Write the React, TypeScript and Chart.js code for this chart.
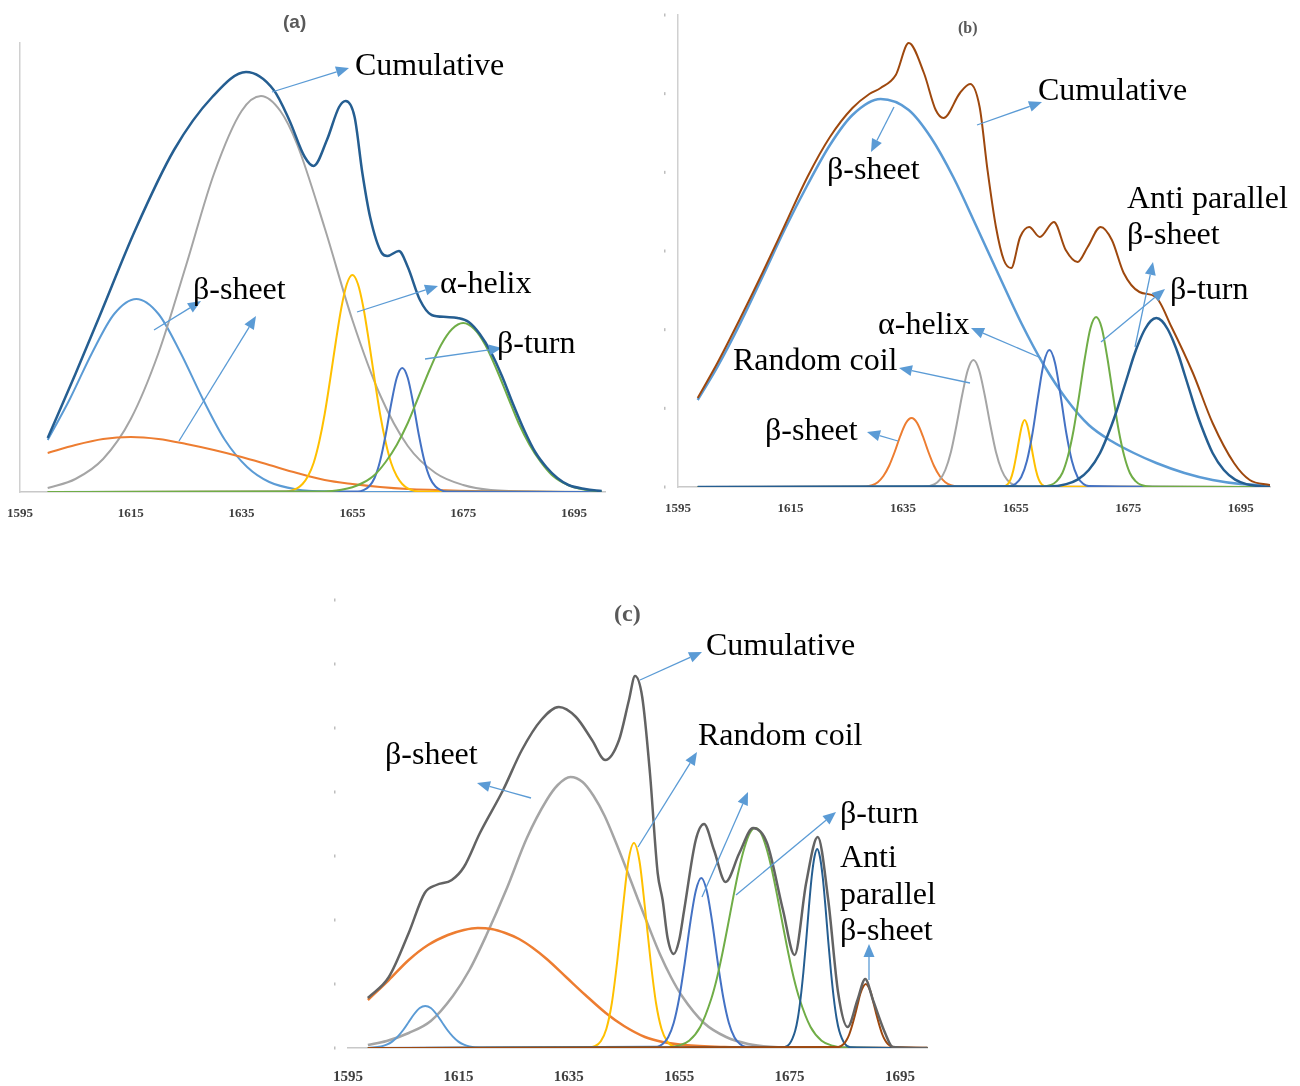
import React, { useEffect, useRef } from "react";
import { Chart, registerables } from "chart.js";

Chart.register(...registerables);

// ---------- shared ----------
const TICK_VALUES = [1595, 1615, 1635, 1655, 1675, 1695];

// ---------- panel (a) ----------
const A_CUM_X = [1600, 1605, 1609.3, 1615.8, 1622.8, 1629.7, 1635.8, 1640.8, 1643.6, 1646.4, 1648, 1650.4, 1652.6, 1653.8, 1655.4, 1656.8, 1658.2, 1660.3, 1661.3, 1663.4, 1665, 1667.2, 1669.3, 1672, 1674, 1676, 1678, 1680, 1682, 1684, 1686, 1688, 1690, 1692, 1694, 1697, 1700];
const A_CUM_Y = [54, 118, 175, 262, 342, 395, 420, 402, 372, 335, 326, 352, 385, 391, 375, 319, 275, 239, 236, 241, 225, 192, 177, 175, 174, 170, 158, 140, 116, 88, 62, 40, 25, 14, 7, 3, 1];
const A_GRAY_X = [1600, 1605, 1610, 1615, 1620, 1625, 1630, 1635, 1638.5, 1642, 1645, 1650, 1655, 1660, 1665, 1670, 1675, 1680, 1690, 1700];
const A_GRAY_Y = [4, 13, 33, 73, 139, 227, 318, 381, 396, 381, 348, 264, 172, 97, 46, 19, 7, 2, 0.3, 0];
const A_LBLUE_X = [1600, 1604, 1608, 1612, 1616, 1620, 1624, 1628, 1632, 1636, 1640, 1645, 1650, 1660, 1700];
const A_LBLUE_Y = [52, 93, 139, 178, 193, 178, 139, 93, 52, 25, 10, 2.6, 0.5, 0, 0];
const A_ORANGE_X = [1600, 1605, 1610, 1615, 1620, 1625, 1630, 1635, 1640, 1645, 1650, 1655, 1660, 1665, 1670, 1680, 1700];
const A_ORANGE_Y = [39, 47, 53, 55, 53, 48, 42, 35, 27, 19, 12, 8, 5, 3, 2, 0.5, 0];
const A_YELLOW_X = [1600, 1643, 1645, 1646, 1647, 1648, 1649, 1650, 1651, 1652, 1653, 1654, 1655, 1656, 1657, 1658, 1659, 1660, 1661, 1662, 1663, 1664, 1665, 1667, 1700];
const A_YELLOW_Y = [0, 0.6, 3.7, 8, 16, 29, 50, 78, 113, 150, 184, 208, 217, 208, 184, 150, 113, 78, 50, 29, 16, 8, 3.7, 0.6, 0];
const A_BLUE_X = [1600, 1656, 1657, 1658, 1659, 1660, 1661, 1662, 1663, 1664, 1665, 1666, 1667, 1668, 1669, 1670, 1671, 1672, 1700];
const A_BLUE_Y = [0, 0.4, 1.8, 5.5, 14, 31, 57, 88, 114, 124, 114, 88, 57, 31, 14, 5.5, 1.8, 0.4, 0];
const A_GREEN_X = [1600, 1650, 1653, 1655, 1657, 1659, 1661, 1663, 1665, 1667, 1669, 1671, 1673, 1675, 1677, 1679, 1681, 1683, 1685, 1687, 1689, 1691, 1693, 1695, 1697, 1700];
const A_GREEN_Y = [0, 0.6, 2.3, 4.8, 9.5, 17, 30, 47, 69, 96, 123, 147, 163, 169, 163, 147, 123, 96, 69, 47, 30, 17, 9.5, 4.8, 2.3, 0.6];

// ---------- panel (b) ----------
const B_CUM_X = [1598.5, 1602, 1606, 1610, 1614, 1618, 1622, 1626, 1629, 1631, 1633.7, 1636, 1638.7, 1640.8, 1642.2, 1645.1, 1646.9, 1648.6, 1650, 1651.5, 1652.9, 1654.2, 1655.8, 1657.4, 1659.3, 1661.8, 1663.9, 1666, 1667.8, 1670.1, 1672.1, 1674.2, 1677, 1679.9, 1682.7, 1686.5, 1690, 1693.8, 1696.6, 1700.2];
const B_CUM_Y = [89, 124, 168, 214, 262, 310, 350, 379, 393, 399, 412, 444, 414, 377, 369, 394, 403, 380, 317, 260, 227, 219, 250, 260, 250, 265, 237, 225, 240, 260, 247, 214, 195, 190, 160, 114, 64, 24, 7, 2];
const B_LBLUE_X = [1598.5, 1602, 1606, 1610, 1614, 1618, 1622, 1626, 1631, 1636, 1640, 1644, 1648, 1652, 1656, 1660, 1664, 1668, 1672, 1676, 1680, 1685, 1690, 1695, 1700.2];
const B_LBLUE_Y = [87, 120, 163, 210, 258, 302, 342, 372, 388, 377, 349, 309, 261, 212, 164, 122, 88, 62, 46, 34, 24, 14, 7, 3, 1.5];
const B_ORANGE_X = [1598.5, 1627.5, 1629.5, 1630.5, 1631.5, 1632.5, 1633.5, 1634.5, 1635.5, 1636.5, 1637.5, 1638.5, 1639.5, 1640.5, 1641.5, 1642.5, 1643.5, 1645.5, 1700.2];
const B_ORANGE_Y = [0, 0.2, 1.9, 4.8, 11, 21, 35, 51, 64, 69, 64, 51, 35, 21, 11, 4.8, 1.9, 0.2, 0];
const B_GRAY_X = [1598.5, 1638.5, 1640.5, 1641.5, 1642.5, 1643.5, 1644.5, 1645.5, 1646.5, 1647.5, 1648.5, 1649.5, 1650.5, 1651.5, 1652.5, 1653.5, 1654.5, 1656.5, 1700.2];
const B_GRAY_Y = [0, 0.2, 2.5, 7.1, 17, 35, 62, 92, 117, 127, 117, 92, 62, 35, 17, 7.1, 2.5, 0.2, 0];
const B_YELLOW_X = [1598.5, 1652.6, 1653.6, 1654.1, 1654.6, 1655.1, 1655.6, 1656.1, 1656.6, 1657.1, 1657.6, 1658.1, 1658.6, 1659.1, 1659.6, 1660.6, 1700.2];
const B_YELLOW_Y = [0, 0.3, 2.9, 7.6, 17, 31, 47, 61, 67, 61, 47, 31, 17, 7.6, 2.9, 0.3, 0];
const B_BLUE_X = [1598.5, 1654, 1655, 1656, 1657, 1658, 1659, 1660, 1661, 1662, 1663, 1664, 1665, 1666, 1667, 1668, 1700.2];
const B_BLUE_Y = [0, 0.9, 3.3, 10, 26, 54, 91, 124, 137, 124, 91, 54, 26, 10, 3.3, 0.9, 0];
const B_GREEN_X = [1598.5, 1659.3, 1661.3, 1662.3, 1663.3, 1664.3, 1665.3, 1666.3, 1667.3, 1668.3, 1669.3, 1670.3, 1671.3, 1672.3, 1673.3, 1674.3, 1675.3, 1676.3, 1677.3, 1679.3, 1700.2];
const B_GREEN_Y = [0, 0.2, 2.1, 5.9, 14, 31, 57, 92, 129, 159, 170, 159, 129, 92, 57, 31, 14, 5.9, 2.1, 0.2, 0];
const B_DBLUE_X = [1598.5, 1661, 1664, 1666, 1668, 1670, 1672, 1673, 1674, 1675, 1676, 1677, 1678, 1679, 1680, 1681, 1682, 1683, 1684, 1685, 1686, 1687, 1688, 1690, 1692, 1694, 1696, 1699, 1700.2];
const B_DBLUE_Y = [0, 0.5, 2.9, 7.4, 17, 34, 61, 77, 95, 113, 131, 146, 158, 166, 169, 166, 158, 146, 131, 113, 95, 77, 61, 34, 17, 7.4, 2.9, 0.5, 0];

// ---------- panel (c) ----------
const C_CUM_X = [1598.6, 1602.4, 1606, 1608.9, 1611, 1613.8, 1616, 1618.9, 1623.1, 1626.5, 1630, 1633.2, 1636.3, 1639.2, 1641.6, 1644.1, 1645.9, 1647, 1648.3, 1649.7, 1651.1, 1652, 1652.9, 1654, 1655, 1655.9, 1658, 1659.5, 1661.3, 1663.4, 1665.9, 1668.4, 1670.9, 1673.8, 1675.9, 1678, 1680.1, 1682, 1683.8, 1685.5, 1687.3, 1688.7, 1690.1, 1692.3, 1693.7, 1700];
const C_CUM_Y = [50, 71, 115, 155, 163, 168, 181, 215, 258, 298, 328, 341, 331, 308, 288, 308, 348, 372, 351, 275, 175, 148, 110, 94, 108, 138, 208, 224, 198, 166, 195, 220, 205, 138, 93, 165, 211, 148, 55, 21, 48, 69, 48, 15, 1, 0];
const C_LGRAY_X = [1598.6, 1602, 1606, 1610, 1614, 1617, 1620, 1623.8, 1627.4, 1631, 1633, 1635.3, 1637.5, 1639.5, 1641.5, 1643.5, 1645.5, 1647.5, 1649.5, 1651.5, 1653.5, 1655.5, 1659.5, 1663.5, 1667.5, 1671.5, 1680, 1700];
const C_LGRAY_Y = [3, 7, 15, 27, 52, 78, 112, 160, 210, 248, 263, 271, 266, 252, 232, 206, 178, 149, 121, 94, 71, 52, 25, 11, 4, 1.3, 0.2, 0];
const C_LBLUE_X = [1598.6, 1601, 1602, 1603, 1604, 1605, 1606, 1607, 1608, 1609, 1610, 1611, 1612, 1613, 1614, 1615, 1616, 1617, 1619, 1700];
const C_LBLUE_Y = [0.1, 1.5, 3.3, 6.4, 11.4, 18, 26, 34, 40, 42, 40, 34, 26, 18, 11.4, 6.4, 3.3, 1.5, 0.2, 0];
const C_ORANGE_X = [1598.6, 1602.4, 1606, 1609.5, 1613.1, 1616, 1618.5, 1621, 1623.5, 1626, 1628.5, 1631, 1634.5, 1638, 1641.7, 1645, 1648.8, 1652, 1655.9, 1663.2, 1672, 1685, 1700];
const C_ORANGE_Y = [48, 68, 88, 103, 113, 118, 120, 119, 115, 109, 100, 89, 71, 53, 35, 22, 11, 6, 3, 1, 0.4, 0.1, 0];
const C_YELLOW_X = [1598.6, 1637.8, 1639.8, 1640.8, 1641.8, 1642.8, 1643.8, 1644.8, 1645.8, 1646.8, 1647.8, 1648.8, 1649.8, 1650.8, 1651.8, 1652.8, 1653.8, 1655.8, 1700];
const C_YELLOW_Y = [0, 0.1, 2, 6.8, 19, 45, 88, 140, 187, 205, 187, 140, 88, 45, 19, 6.8, 2, 0.1, 0];
const C_BLUE_X = [1598.6, 1651, 1652, 1653, 1654, 1655, 1656, 1657, 1658, 1659, 1660, 1661, 1662, 1663, 1664, 1665, 1666, 1667, 1700];
const C_BLUE_Y = [0, 1.2, 3.9, 10.7, 25, 50, 85, 125, 157, 170, 157, 125, 85, 50, 25, 10.7, 3.9, 1.2, 0];
const C_GREEN_X = [1598.6, 1652.8, 1654.8, 1656.8, 1658.8, 1660.8, 1661.8, 1662.8, 1663.8, 1664.8, 1665.8, 1666.8, 1667.8, 1668.8, 1669.8, 1670.8, 1671.8, 1672.8, 1673.8, 1674.8, 1675.8, 1676.8, 1678.8, 1680.8, 1682.8, 1684.8, 1700];
const C_GREEN_Y = [0, 0.5, 2.2, 7.3, 21, 49, 69, 94, 122, 151, 178, 200, 215, 220, 215, 200, 178, 151, 122, 94, 69, 49, 21, 7.3, 2.2, 0.5, 0];
const C_DBLUE_X = [1598.6, 1674, 1675, 1676, 1676.5, 1677, 1677.5, 1678, 1678.5, 1679, 1679.5, 1680, 1680.5, 1681, 1681.5, 1682, 1682.5, 1683, 1683.5, 1684, 1685, 1686, 1700];
const C_DBLUE_Y = [0, 0.8, 4.2, 17, 30, 50, 76, 107, 141, 171, 191, 199, 191, 171, 141, 107, 76, 50, 30, 17, 4.2, 0.8, 0];
const C_BROWN_X = [1598.6, 1683.8, 1684.8, 1685.3, 1685.8, 1686.3, 1686.8, 1687.3, 1687.8, 1688.3, 1688.8, 1689.3, 1689.8, 1690.3, 1690.8, 1691.3, 1691.8, 1692.3, 1692.8, 1693.8, 1700];
const C_BROWN_Y = [0, 0.9, 4, 7.7, 13.5, 22, 32, 43, 54, 61, 64, 61, 54, 43, 32, 22, 13.5, 7.7, 4, 0.9, 0];

// ---------- colours ----------
const COL = {
  darkBlue: "#255E91",
  gray: "#A5A5A5",
  lightBlue: "#5B9BD5",
  orange: "#ED7D31",
  yellow: "#FFC000",
  blue: "#4472C4",
  green: "#70AD47",
  brown: "#9E480E",
  darkGray: "#636363",
};

type Series = { label: string; xs: number[]; ys: number[]; color: string; width: number };

type PanelCfg = {
  left: number;
  top: number;
  width: number;
  height: number;
  pad: { left: number; top: number; right: number; bottom: number };
  xMax: number;
  yMax: number;
  axisH: number;
  tickSize: number;
  tickPad: number;
  yLine: boolean;
  dots?: { step: number; offset: number };
  series: Series[];
};

// index 0 is drawn on top
const PANEL_A: PanelCfg = {
  left: -15, top: 20, width: 655, height: 520,
  pad: { left: 35, top: 23, right: 35, bottom: 8 },
  xMax: 1700.6, yMax: 449, axisH: 40, tickSize: 13, tickPad: 14, yLine: true,
  series: [
    { label: "Cumulative", xs: A_CUM_X, ys: A_CUM_Y, color: COL.darkBlue, width: 2.5 },
    { label: "β-turn", xs: A_GREEN_X, ys: A_GREEN_Y, color: COL.green, width: 2 },
    { label: "Blue", xs: A_BLUE_X, ys: A_BLUE_Y, color: COL.blue, width: 2 },
    { label: "α-helix", xs: A_YELLOW_X, ys: A_YELLOW_Y, color: COL.yellow, width: 2 },
    { label: "β-sheet (orange)", xs: A_ORANGE_X, ys: A_ORANGE_Y, color: COL.orange, width: 2 },
    { label: "Gray", xs: A_GRAY_X, ys: A_GRAY_Y, color: COL.gray, width: 2 },
    { label: "β-sheet", xs: A_LBLUE_X, ys: A_LBLUE_Y, color: COL.lightBlue, width: 2 },
  ],
};

const PANEL_B: PanelCfg = {
  left: 640, top: 0, width: 660, height: 540,
  pad: { left: 38, top: 15, right: 30, bottom: 13 },
  xMax: 1700.2, yMax: 472, axisH: 40, tickSize: 13, tickPad: 14, yLine: true,
  dots: { step: 472 / 6, offset: 14 },
  series: [
    { label: "Cumulative", xs: B_CUM_X, ys: B_CUM_Y, color: COL.brown, width: 2 },
    { label: "Anti parallel β-sheet", xs: B_DBLUE_X, ys: B_DBLUE_Y, color: COL.darkBlue, width: 2.5 },
    { label: "β-turn", xs: B_GREEN_X, ys: B_GREEN_Y, color: COL.green, width: 2 },
    { label: "α-helix", xs: B_BLUE_X, ys: B_BLUE_Y, color: COL.blue, width: 2 },
    { label: "Yellow", xs: B_YELLOW_X, ys: B_YELLOW_Y, color: COL.yellow, width: 2 },
    { label: "Random coil", xs: B_GRAY_X, ys: B_GRAY_Y, color: COL.gray, width: 2 },
    { label: "β-sheet (orange)", xs: B_ORANGE_X, ys: B_ORANGE_Y, color: COL.orange, width: 2 },
    { label: "β-sheet", xs: B_LBLUE_X, ys: B_LBLUE_Y, color: COL.lightBlue, width: 2.5 },
  ],
};

const PANEL_C: PanelCfg = {
  left: 300, top: 580, width: 650, height: 506,
  pad: { left: 48, top: 20, right: 22.4, bottom: 2 },
  xMax: 1700, yMax: 448, axisH: 36, tickSize: 15, tickPad: 20, yLine: false,
  dots: { step: 64, offset: 14 },
  series: [
    { label: "Cumulative", xs: C_CUM_X, ys: C_CUM_Y, color: COL.darkGray, width: 2.5 },
    { label: "Anti parallel β-sheet", xs: C_BROWN_X, ys: C_BROWN_Y, color: COL.brown, width: 2 },
    { label: "Dark blue", xs: C_DBLUE_X, ys: C_DBLUE_Y, color: COL.darkBlue, width: 2 },
    { label: "β-turn", xs: C_GREEN_X, ys: C_GREEN_Y, color: COL.green, width: 2 },
    { label: "Blue", xs: C_BLUE_X, ys: C_BLUE_Y, color: COL.blue, width: 2 },
    { label: "Random coil", xs: C_YELLOW_X, ys: C_YELLOW_Y, color: COL.yellow, width: 2 },
    { label: "Orange", xs: C_ORANGE_X, ys: C_ORANGE_Y, color: COL.orange, width: 2.5 },
    { label: "Light blue", xs: C_LBLUE_X, ys: C_LBLUE_Y, color: COL.lightBlue, width: 2 },
    { label: "β-sheet", xs: C_LGRAY_X, ys: C_LGRAY_Y, color: COL.gray, width: 2.5 },
  ],
};

// ---------- annotations (page pixels) ----------
type Label = { text: string; x: number; y: number; size?: number };
const LABELS: Label[] = [
  { text: "Cumulative", x: 355, y: 48 },
  { text: "β-sheet", x: 193, y: 272 },
  { text: "α-helix", x: 440, y: 266 },
  { text: "β-turn", x: 497, y: 326 },
  { text: "Cumulative", x: 1038, y: 73 },
  { text: "β-sheet", x: 827, y: 152 },
  { text: "Anti parallel", x: 1127, y: 181 },
  { text: "β-sheet", x: 1127, y: 217 },
  { text: "β-turn", x: 1170, y: 272 },
  { text: "α-helix", x: 878, y: 307 },
  { text: "Random coil", x: 733, y: 343 },
  { text: "β-sheet", x: 765, y: 413 },
  { text: "Cumulative", x: 706, y: 628 },
  { text: "β-sheet", x: 385, y: 737 },
  { text: "Random coil", x: 698, y: 718 },
  { text: "β-turn", x: 840, y: 796 },
  { text: "Anti", x: 840, y: 840 },
  { text: "parallel", x: 840, y: 877 },
  { text: "β-sheet", x: 840, y: 913 },
];

const ARROWS: number[][] = [
  [272, 92, 349, 68],
  [154, 330, 201, 301],
  [179, 441, 256, 316],
  [357, 312, 438, 286],
  [425, 359, 502, 348],
  [977, 125, 1042, 102],
  [894, 107, 871, 152],
  [1135, 347, 1153, 262],
  [1101, 342, 1165, 289],
  [1041, 358, 971, 328],
  [970, 383, 899, 368],
  [898, 441, 867, 432],
  [640, 680, 702, 652],
  [531, 798, 477, 783],
  [638, 847, 697, 752],
  [702, 897, 748, 792],
  [736, 895, 836, 812],
  [869, 980, 869, 944],
];

function pts(xs: number[], ys: number[]) {
  return xs.map((x, i) => ({ x, y: ys[i] }));
}

function Panel({ cfg }: { cfg: PanelCfg }) {
  const ref = useRef<HTMLCanvasElement>(null);
  useEffect(() => {
    if (!ref.current) return;
    const dotPlugin = {
      id: "ydots",
      afterDraw(chart: any) {
        if (!cfg.dots) return;
        const { ctx, chartArea } = chart;
        const ys = chart.scales.y;
        ctx.save();
        ctx.fillStyle = "#BDBDBD";
        for (let v = 0; v <= cfg.yMax + 0.01; v += cfg.dots.step) {
          const py = ys.getPixelForValue(v);
          ctx.fillRect(chartArea.left - cfg.dots.offset, py - 1.5, 1.5, 3);
        }
        ctx.restore();
      },
    };
    const chart = new Chart(ref.current, {
      type: "line",
      data: {
        datasets: cfg.series.map((s) => ({
          label: s.label,
          data: pts(s.xs, s.ys),
          borderColor: s.color,
          backgroundColor: s.color,
          borderWidth: s.width,
          pointRadius: 0,
          fill: false,
          cubicInterpolationMode: "monotone" as const,
        })),
      },
      options: {
        animation: false,
        responsive: false,
        devicePixelRatio: 1,
        events: [],
        layout: { padding: cfg.pad },
        plugins: {
          legend: { display: false },
          tooltip: { enabled: false },
          title: { display: false },
        },
        scales: {
          x: {
            type: "linear",
            min: 1595,
            max: cfg.xMax,
            grid: { display: false, drawTicks: false, tickLength: 0 },
            border: { display: true, color: "#C8C8C8", width: 1.5 },
            ticks: {
              autoSkip: false,
              maxRotation: 0,
              padding: cfg.tickPad,
              color: "#3F3F3F",
              font: { family: "'Liberation Serif', 'Times New Roman', serif", size: cfg.tickSize, weight: "bold" },
              callback: (v: any) => String(v),
            },
            afterBuildTicks: (s: any) => {
              s.ticks = TICK_VALUES.map((v) => ({ value: v }));
            },
            afterFit: (s: any) => {
              s.height = cfg.axisH;
            },
          },
          y: {
            type: "linear",
            min: 0,
            max: cfg.yMax,
            grid: { display: false, drawTicks: false, tickLength: 0 },
            ticks: { display: false },
            border: { display: cfg.yLine, color: "#D0D0D0", width: 1.5 },
            afterFit: (s: any) => {
              s.width = 0;
            },
          },
        },
      } as any,
      plugins: [dotPlugin],
    });
    return () => chart.destroy();
  }, [cfg]);
  return (
    <canvas
      ref={ref}
      width={cfg.width}
      height={cfg.height}
      style={{ position: "absolute", left: cfg.left, top: cfg.top, width: cfg.width, height: cfg.height }}
    />
  );
}

function Arrow({ a }: { a: number[] }) {
  const [x1, y1, x2, y2] = a;
  const ang = Math.atan2(y2 - y1, x2 - x1);
  const L = 13;
  const W = 5.5;
  const c = Math.cos(ang);
  const s = Math.sin(ang);
  const bx = x2 - L * c;
  const by = y2 - L * s;
  const p = `${x2},${y2} ${bx - W * s},${by + W * c} ${bx + W * s},${by - W * c}`;
  return (
    <g>
      <line x1={x1} y1={y1} x2={bx} y2={by} stroke="#5B9BD5" strokeWidth={1.3} />
      <polygon points={p} fill="#5B9BD5" />
    </g>
  );
}

export default function App() {
  const serif = "'Liberation Serif', 'Times New Roman', serif";
  return (
    <div style={{ position: "absolute", left: 0, top: 0, width: 1300, height: 1086, background: "#fff", overflow: "hidden" }}>
      <Panel cfg={PANEL_A} />
      <Panel cfg={PANEL_B} />
      <Panel cfg={PANEL_C} />
      <svg width={1300} height={1086} style={{ position: "absolute", left: 0, top: 0, pointerEvents: "none" }}>
        {ARROWS.map((a, i) => (
          <Arrow key={i} a={a} />
        ))}
      </svg>
      {LABELS.map((l, i) => (
        <div
          key={i}
          style={{
            position: "absolute",
            left: l.x,
            top: l.y,
            fontFamily: serif,
            fontSize: l.size || 32,
            lineHeight: 1,
            color: "#000",
            whiteSpace: "nowrap",
          }}
        >
          {l.text}
        </div>
      ))}
      <div style={{ position: "absolute", left: 283, top: 12, fontFamily: "'Liberation Sans', Arial, sans-serif", fontWeight: "bold", fontSize: 19, lineHeight: 1, color: "#595959" }}>
        (a)
      </div>
      <div style={{ position: "absolute", left: 958, top: 20, fontFamily: serif, fontWeight: "bold", fontSize: 16, lineHeight: 1, color: "#595959" }}>
        (b)
      </div>
      <div style={{ position: "absolute", left: 614, top: 601, fontFamily: serif, fontWeight: "bold", fontSize: 24, lineHeight: 1, color: "#595959" }}>
        (c)
      </div>
    </div>
  );
}
